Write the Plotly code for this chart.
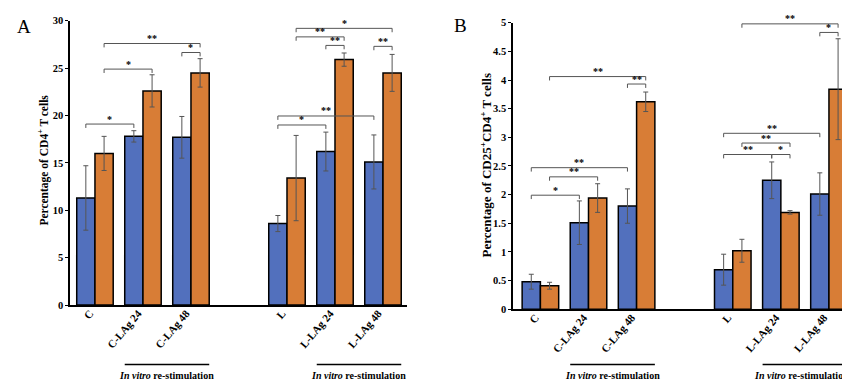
import plotly.graph_objects as go

# ---------------- data ----------------
positions = [0, 1, 2, 4, 5, 6]
categories = ["C", "C-LAg 24", "C-LAg 48", "L", "L-LAg 24", "L-LAg 48"]

a_blue = [11.3, 17.8, 17.7, 8.6, 16.2, 15.1]
a_blue_err = [3.4, 0.6, 2.2, 0.85, 2.05, 2.85]
a_orange = [16.0, 22.6, 24.5, 13.4, 25.9, 24.5]
a_orange_err = [1.8, 1.7, 1.5, 4.5, 0.7, 1.95]

b_blue = [0.48, 1.51, 1.80, 0.69, 2.25, 2.01]
b_blue_err = [0.13, 0.38, 0.30, 0.27, 0.32, 0.37]
b_orange = [0.41, 1.94, 3.62, 1.02, 1.69, 3.84]
b_orange_err = [0.06, 0.25, 0.17, 0.20, 0.03, 0.88]

# significance brackets: (position1, series1, position2, series2, level, label)
a_brackets = [
    (0, 0, 1, 0, 19.1, "*"),
    (0, 1, 1, 1, 24.9, "*"),
    (0, 1, 2, 1, 27.6, "**"),
    (2, 0, 2, 1, 26.65, "*"),
    (4, 0, 5, 0, 19.0, "*"),
    (4, 0, 6, 0, 19.95, "**"),
    (4, 1, 5, 1, 28.3, "**"),
    (4, 1, 6, 1, 29.2, "*"),
    (5, 0, 5, 1, 27.4, "**"),
    (6, 0, 6, 1, 27.3, "**"),
]
b_brackets = [
    (0, 0, 1, 0, 1.99, "*"),
    (0, 1, 1, 1, 2.31, "**"),
    (0, 0, 2, 0, 2.47, "**"),
    (0, 1, 2, 1, 4.06, "**"),
    (2, 0, 2, 1, 3.93, "**"),
    (4, 0, 5, 0, 2.70, "**"),
    (5, 0, 5, 1, 2.70, "*"),
    (4, 1, 5, 1, 2.90, "**"),
    (4, 0, 6, 0, 3.07, "**"),
    (4, 1, 6, 1, 4.98, "**"),
    (6, 0, 6, 1, 4.83, "*"),
]

a_ticks = [0, 5, 10, 15, 20, 25, 30]
b_ticks = [0, 0.5, 1, 1.5, 2, 2.5, 3, 3.5, 4, 4.5, 5]
b_ticklabels = ["0", "0.5", "1", "1.5", "2", "2.5", "3", "3.5", "4", "4.5", "5"]

# ---------------- style ----------------
W, H = 850, 382
BLUE = "#5270BD"
ORANGE = "#D87D36"
SERIF = "Liberation Serif"
BARGAP = 0.24
HALF = (1 - BARGAP) / 4  # offset of each bar centre from group centre


def b(s):
    return "<b>" + s + "</b>"


fig = go.Figure()


def add_panel(xa, ya, blue, blue_err, orange, orange_err):
    for vals, errs, col in ((blue, blue_err, BLUE), (orange, orange_err, ORANGE)):
        fig.add_trace(go.Bar(
            x=positions, y=vals, xaxis=xa, yaxis=ya,
            marker=dict(color=col, line=dict(color="black", width=1.5)),
            error_y=dict(type="data", array=errs, color="#555555", thickness=1, width=2.5),
            showlegend=False, hoverinfo="skip",
        ))


add_panel("x", "y", a_blue, a_blue_err, a_orange, a_orange_err)
add_panel("x2", "y2", b_blue, b_blue_err, b_orange, b_orange_err)

# domains (pixel based)
ax_dom = [62 / W, 399 / W]
bx_dom = [505 / W, 845 / W]
ay_dom = [(H - 300.7) / H, (H - 8) / H]
by_dom = [(H - 305) / H, (H - 10) / H]

xcommon = dict(
    tickmode="array", tickvals=positions, ticktext=[b(c) for c in categories], tickangle=-50,
    tickfont=dict(family=SERIF, size=11, color="black"),
    showline=True, linecolor="black", linewidth=1.5, ticks="", showgrid=False,
    zeroline=False, ticklabelshift=-5, ticklabelstandoff=-4,
)
ycommon = dict(
    showline=True, linecolor="black", linewidth=1.5, ticks="outside", ticklen=3,
    tickcolor="black", showgrid=False, zeroline=False, tickmode="array",
    tickfont=dict(family=SERIF, size=10.5, color="black"),
)

fig.update_layout(
    width=W, height=H, margin=dict(l=0, r=0, t=0, b=0),
    paper_bgcolor="white", plot_bgcolor="white",
    barmode="group", bargap=BARGAP, bargroupgap=0,
    xaxis=dict(domain=ax_dom, range=[-0.52, 6.5], anchor="y", **xcommon),
    yaxis=dict(domain=ay_dom, range=[0, 30], anchor="x", tickvals=a_ticks,
               ticktext=[b(str(t)) for t in a_ticks], **ycommon),
    xaxis2=dict(domain=bx_dom, range=[-0.57, 6.5], anchor="y2", **xcommon),
    yaxis2=dict(domain=by_dom, range=[0, 5], anchor="x2", tickvals=b_ticks,
                ticktext=[b(t) for t in b_ticklabels], **ycommon),
)

shapes = []
annotations = []


def add_brackets(brackets, xref, yref, yrange, ydom):
    px_per_unit = (ydom[1] - ydom[0]) * H / (yrange[1] - yrange[0])
    tick = 4 / px_per_unit
    for p1, s1, p2, s2, lvl, lab in brackets:
        x1 = p1 + (-HALF if s1 == 0 else HALF)
        x2 = p2 + (-HALF if s2 == 0 else HALF)
        line = dict(color="#555555", width=1)
        shapes.append(dict(type="line", xref=xref, yref=yref, x0=x1, x1=x2, y0=lvl, y1=lvl, line=line))
        shapes.append(dict(type="line", xref=xref, yref=yref, x0=x1, x1=x1, y0=lvl, y1=lvl - tick, line=line))
        shapes.append(dict(type="line", xref=xref, yref=yref, x0=x2, x1=x2, y0=lvl, y1=lvl - tick, line=line))
        annotations.append(dict(
            x=(x1 + x2) / 2, y=lvl, xref=xref, yref=yref, text=b(lab), showarrow=False,
            yanchor="middle", yshift=5,
            font=dict(family=SERIF, size=10, color="black"),
        ))


add_brackets(a_brackets, "x", "y", [0, 30], ay_dom)
add_brackets(b_brackets, "x2", "y2", [0, 5], by_dom)

# "In vitro re-stimulation" markers under re-stimulated groups
for xref in ("x", "x2"):
    for g1, g2 in ((1, 2), (5, 6)):
        x0 = g1 - 2 * HALF
        x1 = g2 + 2 * HALF
        shapes.append(dict(type="line", xref=xref, yref="paper", x0=x0, x1=x1,
                           y0=(H - 362) / H, y1=(H - 362) / H,
                           line=dict(color="black", width=1.5)))
        annotations.append(dict(
            x=(x0 + x1) / 2, y=(H - 373) / H, xref=xref, yref="paper",
            text="<b><i>In vitro</i> re-stimulation</b>", showarrow=False,
            yanchor="middle", xanchor="center",
            xshift=-3 if (xref == "x2" and g1 == 5) else 0,
            font=dict(family=SERIF, size=10, color="black"),
        ))

# y-axis titles
annotations.append(dict(
    x=36 / W, y=(H - 152) / H, xref="paper", yref="paper",
    text=b("Percentage of CD4<sup>+</sup> T cells"), textangle=-90, showarrow=False,
    xanchor="center", yanchor="middle",
    font=dict(family=SERIF, size=11.5, color="black"),
))
annotations.append(dict(
    x=478 / W, y=(H - 157) / H, xref="paper", yref="paper",
    text=b("Percentage of CD25<sup>+</sup>CD4<sup>+</sup> T cells"), textangle=-90, showarrow=False,
    xanchor="center", yanchor="middle",
    font=dict(family=SERIF, size=13, color="black"),
))

# panel letters
annotations.append(dict(x=16 / W, y=(H - 14) / H, xref="paper", yref="paper", text="A",
                        showarrow=False, xanchor="center", yanchor="middle",
                        font=dict(family=SERIF, size=19, color="black")))
annotations.append(dict(x=452 / W, y=(H - 13) / H, xref="paper", yref="paper", text="B",
                        showarrow=False, xanchor="center", yanchor="middle",
                        font=dict(family=SERIF, size=19, color="black")))

fig.update_layout(shapes=shapes, annotations=annotations)
fig.write_html("out.html")
